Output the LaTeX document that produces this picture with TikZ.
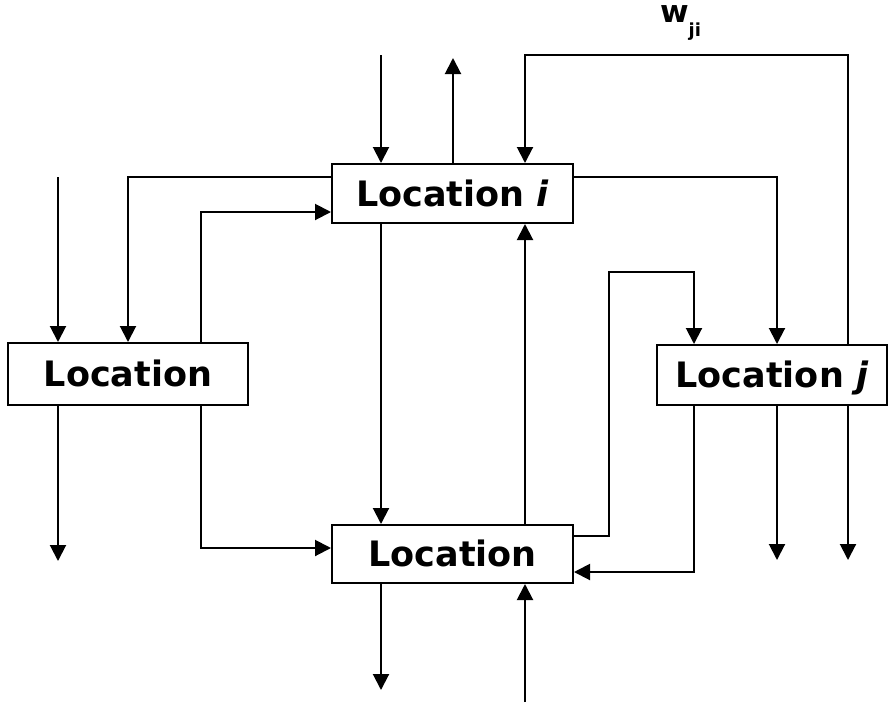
\documentclass[tikz,border=0pt]{standalone}
\usepackage{fontspec}
\setmainfont{DejaVu Sans}
\usetikzlibrary{arrows.meta}
\begin{document}
\begin{tikzpicture}[x=1pt,y=-1pt, line width=2pt,
  box/.style={draw, line width=2pt, minimum width=#1, minimum height=59pt, inner sep=0pt,
    text height=25.5pt, text depth=0pt,
    font=\fontsize{35}{35}\selectfont\bfseries},
  arr/.style={-{Triangle[width=16pt,length=16pt]}}]
\useasboundingbox (0,0) rectangle (888,702);
\node[box=241pt] (li) at (452.5,193.5) {Location \textit{i}};
\node[box=240pt, minimum height=62pt] (ll) at (128,374) {Location};
\node[box=230pt, minimum height=60pt] (lj) at (772,375) {Location \textit{j}};
\node[box=241pt, minimum height=58pt] (lb) at (452.5,554) {Location};
\node[anchor=base west, inner sep=0pt, font=\fontsize{31}{31}\selectfont\bfseries] (wl) at (659,22)
  {w\raisebox{-14pt}{\fontsize{18}{18}\selectfont ji}};
% top of Location i
\coordinate (a1) at (381,55);
\draw[arr] (a1) -- (a1 |- li.north);
\coordinate (a2) at (453,58);
\draw[arr] (a2 |- li.north) -- (a2);
\coordinate (w1) at (525,55);
\coordinate (w2) at (848,55);
\draw[arr] (lj.north -| w2) -- (w2) -- (w1) -- (w1 |- li.north);
% left side
\coordinate (b1) at (128,177);
\draw[arr] (li.west |- b1) -- (b1) -- (b1 |- ll.north);
\coordinate (b2) at (201,212);
\draw[arr] (ll.north -| b2) -- (b2) -- (li.west |- b2);
\coordinate (c1) at (58,177);
\draw[arr] (c1) -- (c1 |- ll.north);
\coordinate (c2) at (58,561);
\draw[arr] (ll.south -| c2) -- (c2);
\coordinate (b3) at (201,548);
\draw[arr] (ll.south -| b3) -- (b3) -- (lb.west |- b3);
% right side
\coordinate (d1) at (777,177);
\draw[arr] (li.east |- d1) -- (d1) -- (d1 |- lj.north);
% middle
\draw[arr] (li.south -| a1) -- (lb.north -| a1);
\draw[arr] (lb.north -| w1) -- (li.south -| w1);
\coordinate (e1) at (609,536);
\coordinate (e2) at (609,272);
\coordinate (e3) at (694,272);
\draw[arr] (lb.east |- e1) -- (e1) -- (e2) -- (e3) -- (e3 |- lj.north);
\coordinate (e4) at (694,572);
\draw[arr] (lj.south -| e4) -- (e4) -- (lb.east |- e4);
\coordinate (d2) at (777,560);
\draw[arr] (lj.south -| d2) -- (d2);
\coordinate (w3) at (848,560);
\draw[arr] (lj.south -| w3) -- (w3);
% bottom
\coordinate (f1) at (381,690);
\draw[arr] (lb.south -| f1) -- (f1);
\coordinate (f2) at (525,702);
\draw[arr] (f2) -- (f2 |- lb.south);
\end{tikzpicture}
\end{document}
